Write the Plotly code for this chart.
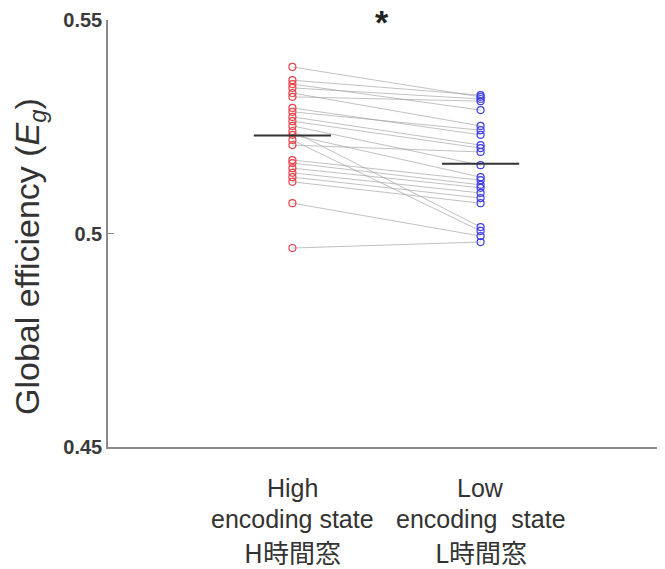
import plotly.graph_objects as go

# ---- data ----
categories = ["High", "Low"]
label_line1 = ["High", "Low"]
label_line2 = ["encoding state", "encoding&nbsp;&nbsp;state"]
label_line3 = ["H時間窓", "L時間窓"]

high_values = [0.5390, 0.5359, 0.5350, 0.5341, 0.5329, 0.5320, 0.5294, 0.5285,
               0.5273, 0.5263, 0.5252, 0.5240, 0.5231, 0.5219, 0.5207, 0.5172,
               0.5165, 0.5153, 0.5142, 0.5132, 0.5121, 0.5071, 0.4966]
low_values = [0.5320, 0.5324, 0.5289, 0.5315, 0.5252, 0.5310, 0.5231, 0.5242,
              0.5207, 0.5200, 0.5160, 0.5015, 0.5132, 0.5006, 0.5191, 0.5125,
              0.5114, 0.5107, 0.5095, 0.5083, 0.5071, 0.4994, 0.4980]

y_ticks = [0.45, 0.5, 0.55]
y_ticklabels = ["0.45", "0.5", "0.55"]
significance = "*"

# ---- figure ----
xh, xl = 1, 2
fig = go.Figure()

# connecting lines
lx, ly = [], []
for h, l in zip(high_values, low_values):
    lx += [xh, xl, None]
    ly += [h, l, None]
fig.add_trace(go.Scatter(x=lx, y=ly, mode="lines",
                         line=dict(color="rgba(160,160,160,0.65)", width=1),
                         hoverinfo="skip", showlegend=False))

fig.add_trace(go.Scatter(x=[xh] * len(high_values), y=high_values, mode="markers",
                         marker=dict(symbol="circle-open", size=7,
                                     color="#e8424a", line=dict(width=1.2)),
                         showlegend=False))
fig.add_trace(go.Scatter(x=[xl] * len(low_values), y=low_values, mode="markers",
                         marker=dict(symbol="circle-open", size=7,
                                     color="#3d3df0", line=dict(width=1.2)),
                         showlegend=False))

# mean lines
mh = sum(high_values) / len(high_values)
ml = sum(low_values) / len(low_values)
hw = 0.205
for xc, m in [(xh, mh), (xl, ml)]:
    fig.add_trace(go.Scatter(x=[xc - hw, xc + hw], y=[m, m], mode="lines",
                             line=dict(color="#333333", width=2),
                             hoverinfo="skip", showlegend=False))

base_font = "Liberation Sans, Arial, sans-serif"
cjk_font = "Noto Sans CJK JP, sans-serif"

annotations = []
for i, xc in enumerate([xh, xl]):
    annotations.append(dict(x=xc, y=-0.096, xref="x", yref="paper", text=label_line1[i],
                            showarrow=False, yanchor="middle",
                            font=dict(family=base_font, size=25, color="#333333")))
    annotations.append(dict(x=xc, y=-0.1686, xref="x", yref="paper", text=label_line2[i],
                            showarrow=False, yanchor="middle",
                            font=dict(family=base_font, size=25, color="#333333")))
    annotations.append(dict(x=xc, y=-0.2436, xref="x", yref="paper", text=label_line3[i],
                            showarrow=False, yanchor="middle",
                            font=dict(family=cjk_font, size=26, color="#333333")))

annotations.append(dict(x=-0.14, y=0.445, xref="paper", yref="paper",
                        text="Global efficiency (<i>E<sub>g</sub></i>)", textangle=-90,
                        showarrow=False, xanchor="center", yanchor="middle",
                        font=dict(family=base_font, size=34, color="#333333")))
annotations.append(dict(x=1.475, y=0.995, xref="x", yref="paper", text="<b>" + significance + "</b>",
                        showarrow=False, xanchor="center", yanchor="middle",
                        font=dict(family=base_font, size=34, color="#222222")))

fig.update_layout(
    width=657, height=561,
    margin=dict(l=100, r=0, t=12, b=122),
    paper_bgcolor="white", plot_bgcolor="white",
    annotations=annotations,
    xaxis=dict(range=[0.02, 2.98], showticklabels=False, ticks="",
               showgrid=False, zeroline=False, showline=True,
               linecolor="#8a8a8a", linewidth=1.5),
    yaxis=dict(range=[0.45, 0.55], tickvals=y_ticks,
               ticktext=["<b>" + t + "</b>" for t in y_ticklabels],
               ticks="inside", ticklen=6, tickcolor="#8a8a8a", tickwidth=1,
               showgrid=False, zeroline=False, showline=True,
               linecolor="#8a8a8a", linewidth=1.5,
               tickfont=dict(family=base_font, size=20, color="#3a3a3a")),
)

fig.write_html("out.html")
